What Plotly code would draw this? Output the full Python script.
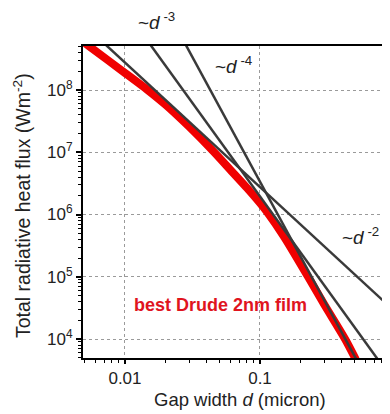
import plotly.graph_objects as go

# ---- data ----
# best Drude 2nm film (gap width in micron, flux in W/m^2)
drude_d = [0.00468, 0.0054, 0.01, 0.01456, 0.02, 0.03, 0.0449, 0.06, 0.08,
           0.1, 0.1127, 0.15, 0.227, 0.3, 0.4266, 0.513]
drude_q = [6.46e8, 5.09e8, 1.88e8, 1.02e8, 5.8e7, 2.55e7, 1.05e7, 5.3e6, 2.68e6,
           1.53e6, 1.1e6, 4.47e5, 1.0e5, 3.55e4, 1.0e4, 4.68e3]

# guide lines (end points)
d2_d = [0.00631, 1.0]
d2_q = [6.93e8, 2.76e4]
d3_d = [0.01413, 0.794]
d3_q = [6.93e8, 3.90e3]
d4_d = [0.0263, 0.525]
d4_q = [7.03e8, 4.44e3]

x_tickvals = [0.01, 0.1, 1]
x_ticktext = ["0.01", "0.1", "1"]
x_minor = [0.002, 0.003, 0.004, 0.005, 0.006, 0.007, 0.008, 0.009,
           0.02, 0.03, 0.04, 0.05, 0.06, 0.07, 0.08, 0.09,
           0.2, 0.3, 0.4, 0.5, 0.6, 0.7, 0.8, 0.9]
y_tickvals = [1e4, 1e5, 1e6, 1e7, 1e8]
y_ticktext = ["10<sup>4</sup>", "10<sup>5</sup>", "10<sup>6</sup>",
              "10<sup>7</sup>", "10<sup>8</sup>"]
y_minor = [m * 10 ** e for e in range(3, 9) for m in range(2, 10)]

FONT = "Liberation Sans, Arial, sans-serif"
GRAY = "#3a3a3a"

# page body has an 8px margin: figure drawn 8px in from top-left of the window
W, H = 382, 406
L, T, PW, PH = 75, 38, 307, 312


def px(sx):
    return (sx - 8 - L) / PW


def py(sy):
    return (T + PH - (sy - 8)) / PH


fig = go.Figure()
fig.add_trace(go.Scatter(x=drude_d, y=drude_q, mode="lines",
                         line=dict(color="#f00000", width=8, shape="spline",
                                   smoothing=0.8),
                         showlegend=False))
for xs, ys in [(d2_d, d2_q), (d3_d, d3_q), (d4_d, d4_q)]:
    fig.add_trace(go.Scatter(x=xs, y=ys, mode="lines",
                             line=dict(color=GRAY, width=2.5),
                             showlegend=False))

axis_common = dict(ticks="outside", tickwidth=1.5, tickcolor="black",
                   showline=True, linecolor="black", linewidth=2,
                   showgrid=True, gridcolor="#9a9a9a", griddash="dot", gridwidth=1,
                   tickfont=dict(family=FONT, size=17, color="#222"),
                   zeroline=False)
fig.update_xaxes(type="log", range=[-2.311, -0.037], ticklen=4,
                 tickmode="array", tickvals=x_tickvals, ticktext=x_ticktext,
                 mirror=True,
                 minor=dict(tickmode="array", tickvals=x_minor, ticks="outside",
                            ticklen=3, tickwidth=1, tickcolor="black", showgrid=False),
                 **axis_common)
fig.update_yaxes(type="log", range=[3.695, 8.707], ticklen=5,
                 tickmode="array", tickvals=y_tickvals, ticktext=y_ticktext,
                 mirror=False,
                 minor=dict(tickmode="array", tickvals=y_minor, ticks="outside",
                            ticklen=3, tickwidth=1, tickcolor="black", showgrid=False),
                 **axis_common)

annots = [
    dict(text="Total radiative heat flux (Wm<sup>-2</sup>)",
         x=px(22), y=py(206), textangle=-90, font=dict(size=19.5)),
    dict(text="Gap width <i>d</i> (micron)",
         x=px(240), y=py(399), font=dict(size=18.5)),
    dict(text="~<i>d</i><sup> -3</sup>",
         x=px(156), y=py(21), font=dict(size=19)),
    dict(text="~<i>d</i><sup> -4</sup>",
         x=px(233), y=py(65), font=dict(size=19)),
    dict(text="~<i>d</i><sup> -2</sup>",
         x=px(360), y=py(236), font=dict(size=19)),
    dict(text="<b>best Drude 2nm film</b>",
         x=px(220), y=py(305), font=dict(size=18, color="#e0141e")),
]
for a in annots:
    f = dict(family=FONT, color="#222")
    f.update(a.pop("font"))
    fig.add_annotation(**a, xref="paper", yref="paper", font=f, showarrow=False,
                       xanchor="center", yanchor="middle", borderpad=0)

fig.update_layout(width=W, height=H,
                  margin=dict(l=L, r=W - L - PW, t=T, b=H - T - PH),
                  paper_bgcolor="white", plot_bgcolor="white",
                  showlegend=False)

fig.write_html("out.html")
